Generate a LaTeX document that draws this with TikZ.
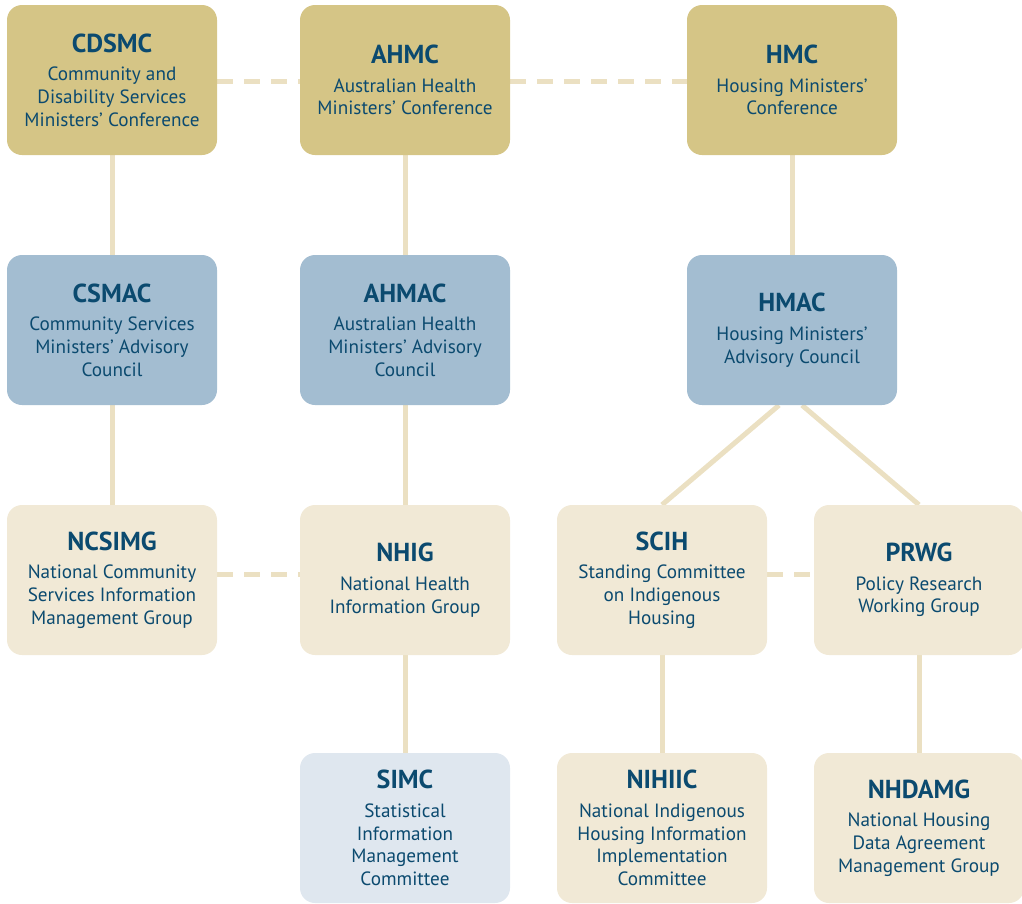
\documentclass[tikz,border=0pt]{standalone}
\usepackage{fontspec}
\setmainfont{PT Sans}
\usetikzlibrary{backgrounds}
\definecolor{gold}{HTML}{D5C586}
\definecolor{steel}{HTML}{A3BDD1}
\definecolor{cream}{HTML}{F1E9D6}
\definecolor{pale}{HTML}{DFE7EF}
\definecolor{linec}{HTML}{EBE0C2}
\definecolor{txt}{HTML}{0B4A6F}
\newcommand\ttl[1]{{\fontsize{26}{27}\selectfont\bfseries #1}\\[6pt]}
\tikzset{
  box/.style={rounded corners=15pt, minimum width=210pt, minimum height=150pt, inner sep=0pt,
    align=center, text=txt, font=\fontsize{19.2}{22.7}\selectfont},
  goldbox/.style={box, fill=gold},
  bluebox/.style={box, fill=steel},
  creambox/.style={box, fill=cream},
  palebox/.style={box, fill=pale},
  conn/.style={draw=linec, line width=5pt},
  dconn/.style={conn, dash pattern=on 16pt off 11pt},
}
\begin{document}
\begin{tikzpicture}[x=1pt,y=-1pt]
\useasboundingbox (0,0) rectangle (1022,903);
\node[goldbox] (cdsmc) at (112,80) {\ttl{CDSMC}Community and\\Disability Services\\Ministers’ Conference};
\node[goldbox] (ahmc) at (405,80) {\ttl{AHMC}Australian Health\\Ministers’ Conference};
\node[goldbox] (hmc) at (792,80) {\ttl{HMC}Housing Ministers’\\Conference};
\node[bluebox] (csmac) at (112,330) {\ttl{CSMAC}Community Services\\Ministers’ Advisory\\Council};
\node[bluebox] (ahmac) at (405,330) {\ttl{AHMAC}Australian Health\\Ministers’ Advisory\\Council};
\node[bluebox] (hmac) at (792,330) {\ttl{HMAC}Housing Ministers’\\Advisory Council};
\node[creambox] (ncsimg) at (112,580) {\ttl{NCSIMG}National Community\\Services Information\\Management Group};
\node[creambox] (nhig) at (405,580) {\ttl{NHIG}National Health\\Information Group};
\node[creambox] (scih) at (662,580) {\ttl{SCIH}Standing Committee\\on Indigenous\\Housing};
\node[creambox] (prwg) at (919,580) {\ttl{PRWG}Policy Research\\Working Group};
\node[palebox] (simc) at (405,828) {\ttl{SIMC}Statistical\\Information\\Management\\Committee};
\node[creambox] (nihiic) at (662,828) {\ttl{NIHIIC}National Indigenous\\Housing Information\\Implementation\\Committee};
\node[creambox] (nhdamg) at (919,828) {\ttl{NHDAMG}National Housing\\Data Agreement\\Management Group};
\begin{scope}[on background layer]
\draw[dconn] ([yshift=-1pt]cdsmc.east) -- ([yshift=-1pt]ahmc.west);
\draw[dconn] ([yshift=-1pt]ahmc.east) -- ([yshift=-1pt]hmc.west);
\draw[dconn] ([yshift=6pt]ncsimg.east) -- ([yshift=6pt]nhig.west);
\draw[dconn] ([yshift=6pt]scih.east) -- ([yshift=6pt]prwg.west);
\draw[conn] (cdsmc) -- (csmac);
\draw[conn] (csmac) -- (ncsimg);
\draw[conn] (ahmc) -- (ahmac);
\draw[conn] (ahmac) -- (nhig);
\draw[conn] (nhig) -- (simc);
\draw[conn] (hmc) -- (hmac);
\draw[conn] (scih) -- (nihiic);
\draw[conn] (prwg) -- (nhdamg);
\draw[conn] ([xshift=-13pt]hmac.south) -- (scih.north);
\draw[conn] ([xshift=10pt]hmac.south) -- (prwg.north);
\end{scope}
\end{tikzpicture}
\end{document}
